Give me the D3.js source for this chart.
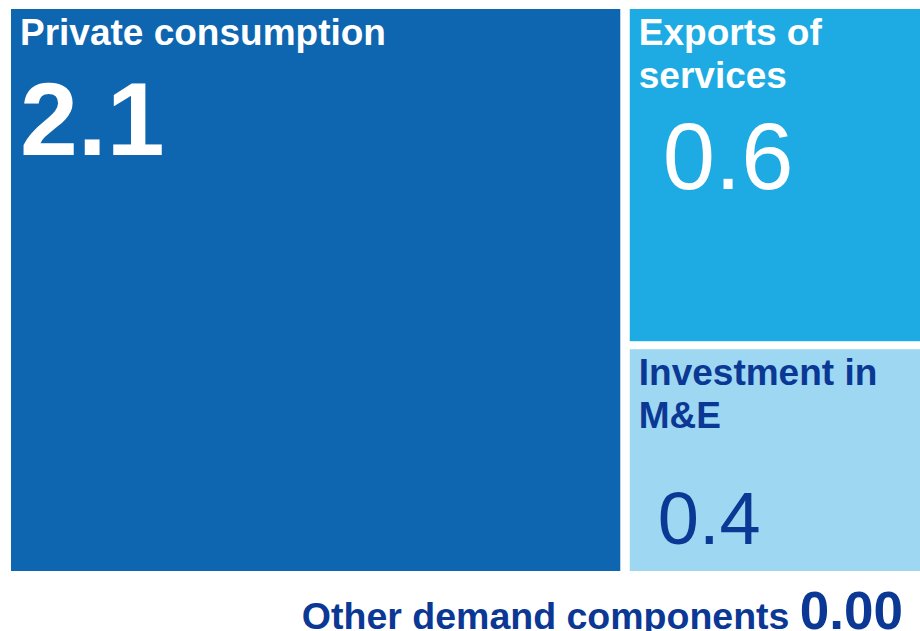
<!DOCTYPE html>
<html>
<head>
<meta charset="utf-8">
<script src="https://cdn.jsdelivr.net/npm/d3@7"></script>
<style>
  html, body { margin: 0; padding: 0; background: #fff; }
  svg { display: block; font-family: "Liberation Sans", Arial, Helvetica, sans-serif; }
</style>
</head>
<body>
<svg id="chart" width="920" height="631"></svg>
<script>
// ---- data ----
const categories = ["Private consumption", "Exports of services", "Investment in M&E"];
const labelLines = [["Private consumption"], ["Exports of", "services"], ["Investment in", "M&E"]];
const values = [2.1, 0.6, 0.4];
const valueLabels = ["2.1", "0.6", "0.4"];
const otherLabel = "Other demand components";
const otherValue = "0.00";

// ---- styles ----
const fills = ["#0E66B0", "#1EABE3", "#9DD7F2"];
const textColors = ["#FFFFFF", "#FFFFFF", "#0A3894"];
const valueStyle = [
  { size: 104, weight: "bold", dx: 9, dy: 146 },
  { size: 94, weight: "normal", dx: 33, dy: 180 },
  { size: 74, weight: "normal", dx: 28, dy: 195 }
];

(function () {
const svg = d3.select("#chart");
const offX = 11, offY = 9, W = 909, H = 562;
const gapY = 7;

const root = d3.hierarchy({
  children: categories.map((c, i) => ({ name: c, value: values[i], i }))
}).sum(d => d.value || 0);

d3.treemap().tile(d3.treemapBinary).size([W, H]).paddingInner(0)(root);

const leaves = root.leaves().map(n => {
  let x0 = n.x0 + offX, x1 = n.x1 + offX, y0 = n.y0 + offY, y1 = n.y1 + offY;
  if (n.x0 > 0.5) x0 += 3;
  if (n.x1 < W - 0.5) x1 -= 6.5;
  if (n.y0 > 0.5) y0 += gapY / 2 - 0.5;
  if (n.y1 < H - 0.5) y1 -= gapY / 2 + 1.5;
  return { x0, x1, y0, y1, i: n.data.i };
});

const g = svg.selectAll("g.cell").data(leaves).join("g")
  .attr("class", "cell")
  .attr("transform", d => `translate(${d.x0},${d.y0})`);

g.append("rect")
  .attr("width", d => d.x1 - d.x0)
  .attr("height", d => d.y1 - d.y0)
  .attr("fill", d => fills[d.i]);

g.each(function(d) {
  const sel = d3.select(this);
  const t = sel.append("text")
    .attr("fill", textColors[d.i])
    .attr("font-size", 37)
    .attr("font-weight", "bold");
  labelLines[d.i].forEach((line, k) => {
    t.append("tspan").attr("x", 9).attr("y", 36 + k * 43).text(line);
  });
  const vs = valueStyle[d.i];
  sel.append("text")
    .attr("x", vs.dx).attr("y", vs.dy)
    .attr("fill", textColors[d.i])
    .attr("font-size", vs.size)
    .attr("font-weight", vs.weight)
    .text(valueLabels[d.i]);
});

// Other demand components line
const other = svg.append("text")
  .attr("x", 903).attr("y", 629)
  .attr("text-anchor", "end")
  .attr("fill", "#0A3894")
  .attr("font-weight", "bold");
other.append("tspan").attr("font-size", 37.5).text(otherLabel + " ");
other.append("tspan").attr("font-size", 53).text(otherValue);
})();
</script>
</body>
</html>
